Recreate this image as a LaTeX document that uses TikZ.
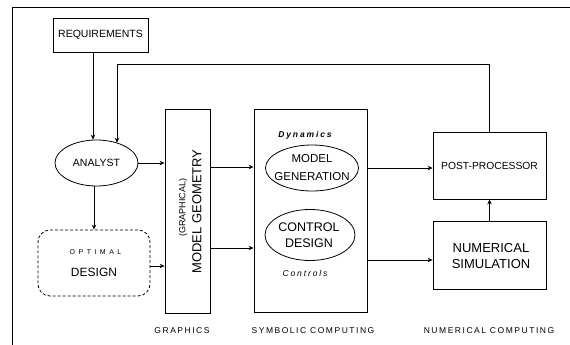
\documentclass[tikz,border=0pt]{standalone}
\usepackage{fontspec}
\setmainfont{Liberation Sans}
\newfontfamily\trkbot[LetterSpace=18]{Liberation Sans}
\newfontfamily\trkopt[LetterSpace=50]{Liberation Sans}
\newfontfamily\trkdyn[LetterSpace=22]{Liberation Sans}
\usetikzlibrary{arrows.meta,shapes.geometric}
\tikzset{
  box/.style={draw, rectangle, inner sep=0pt},
  oval/.style={draw, ellipse, inner sep=0pt},
  arr/.style={-{Stealth[length=5pt,width=4.5pt]}},
  txt/.style={inner sep=0pt, align=center},
  vtxt/.style={inner sep=0pt, rotate=90}
}
\begin{document}
\begin{tikzpicture}[x=1pt,y=-1pt,line width=0.8pt]
\useasboundingbox (0,0) rectangle (570,345);
% frame
\draw (12,345) -- (12,7) -- (570,7);
% nodes
\node[box, minimum width=95pt, minimum height=34pt, font={\fontsize{10.5}{12}\selectfont}] (req) at (100.5,35) {REQUIREMENTS};
\node[oval, minimum width=83pt, minimum height=46pt, font={\fontsize{10.5}{12}\selectfont}] (an) at (96.5,163) {ANALYST};
\node[draw, rectangle, rounded corners=12pt, dash pattern=on 3pt off 2pt, minimum width=112pt, minimum height=66pt, inner sep=0pt] (opt) at (94,263) {};
\node[txt, font={\fontsize{7}{8}\selectfont\trkopt}] (optA) at (95.5,252) {OPTIMAL};
\node[txt, font={\fontsize{12}{14}\selectfont}] (optB) at (94,272) {DESIGN};
\node[box, minimum width=45pt, minimum height=204pt] (geom) at (187.5,211) {};
\node[vtxt, font={\fontsize{9}{10}\selectfont}] (geomA) at (183,207.5) {(GRAPHICAL)};
\node[vtxt, font={\fontsize{13}{14}\selectfont}] (geomB) at (197,211.5) {MODEL GEOMETRY};
\node[box, minimum width=113pt, minimum height=203pt] (symb) at (310.5,210.5) {};
\node[txt, font={\fontsize{8.5}{10}\selectfont\trkdyn\bfseries\itshape}] (dyn) at (305,135) {Dynamics};
\node[oval, minimum width=93pt, minimum height=46pt] (mg) at (312,168) {};
\node[txt, font={\fontsize{11.5}{18.5}\selectfont}] (mgt) at (312,167.5) {MODEL\\GENERATION};
\node[oval, minimum width=90pt, minimum height=51pt] (cd) at (310,235) {};
\node[txt, font={\fontsize{12.5}{16.5}\selectfont}] (cdt) at (309,235) {CONTROL\\DESIGN};
\node[txt, font={\fontsize{8.5}{10}\selectfont\trkdyn\itshape}] (ctl) at (305,273) {Controls};
\node[box, minimum width=113pt, minimum height=67pt, font={\fontsize{10.3}{12}\selectfont}] (post) at (489.5,165.5) {POST-PROCESSOR};
\node[box, minimum width=113pt, minimum height=68pt] (num) at (489.5,255) {};
\node[txt, font={\fontsize{13}{16}\selectfont}] (numt) at (491,256) {NUMERICAL\\SIMULATION};
% bottom labels
\node[txt, font={\fontsize{8.5}{10}\selectfont\trkbot}] (lg) at (182,331) {GRAPHICS};
\node[txt, font={\fontsize{8.5}{10}\selectfont\trkbot}] (ls) at (313,331) {SYMBOLIC COMPUTING};
\node[txt, font={\fontsize{8.5}{10}\selectfont\trkbot}] (ln) at (489,331) {NUMERICAL COMPUTING};
% connectors
\coordinate (rq) at ([xshift=-7.5pt]req.south);
\draw[arr] (rq) -- (rq |- an.north);
\coordinate (fb) at (117,64);
\draw[arr] (post.north) |- (fb) -- (fb |- an.44);
\draw[arr] (an.east) -- (an.east -| geom.west);
\draw[arr] (an.south -| opt.north) -- (opt.north);
\coordinate (o1) at ([yshift=-3pt]opt.east);
\draw[arr] (o1) -- (o1 -| geom.west);
\coordinate (g1) at ([yshift=1pt]mg.center);
\draw[arr] (geom.east |- g1) -- (symb.west |- g1);
\coordinate (g2) at ([yshift=-13pt]cd.center);
\draw[arr] (geom.east |- g2) -- (symb.west |- g2);
\draw[arr] (symb.east |- mg.center) -- (post.west |- mg.center);
\coordinate (s2) at ([yshift=-5pt]num.west);
\draw[arr] (symb.east |- s2) -- (s2);
\draw[arr] (num.north) -- (post.south);
\end{tikzpicture}
\end{document}
